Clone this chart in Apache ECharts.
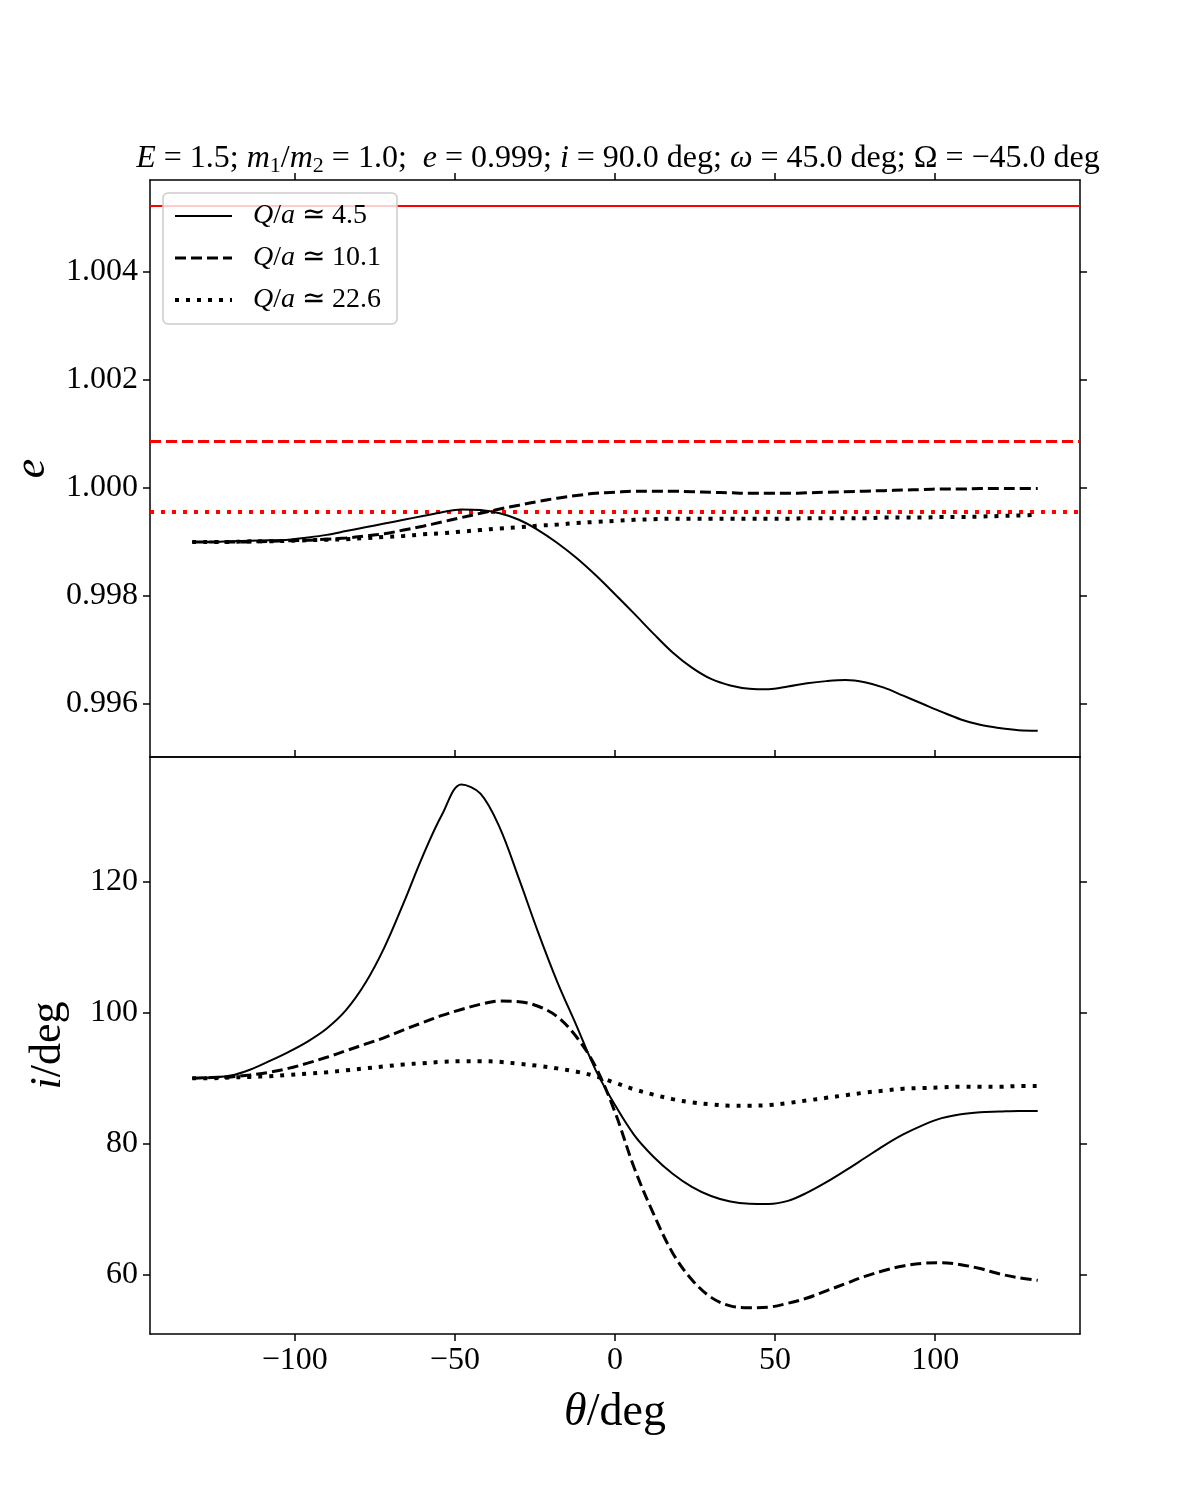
<!DOCTYPE html>
<html>
<head>
<meta charset="utf-8">
<script src="https://cdn.jsdelivr.net/npm/echarts@6/dist/echarts.min.js"></script>
<style>
html,body{margin:0;padding:0;background:#fff;}
#chart{width:1200px;height:1500px;}
</style>
</head>
<body>
<div id="chart"></div>
<script>
// ---- data ----
const theta = [-132,-126,-120,-114,-108,-102,-96,-90,-84,-78,-72,-66,-60,-54,-48,-42,-36,-30,-24,-18,-12,-6,
  0,6,12,18,24,30,36,42,48,54,60,66,72,78,84,90,96,102,108,114,120,126,132];

const qLabels = ['4.5', '10.1', '22.6'];

// eccentricity e(theta)
const eQ45 = [0.99900,0.99900,0.99901,0.99902,0.99903,0.99904,0.99908,0.99913,0.99920,0.99927,0.99934,0.99941,
  0.99948,0.99955,0.99960,0.99959,0.99953,0.99941,0.99922,0.99898,0.99870,0.99838,
  0.99803,0.99767,0.99730,0.99695,0.99667,0.99646,0.99634,0.99628,0.99627,0.99632,0.99638,0.99642,0.99644,
  0.99640,0.99630,0.99615,0.99600,0.99585,0.99571,0.99561,0.99555,0.99551,0.99550];
const eQ101 = [0.99900,0.99900,0.99900,0.99900,0.99901,0.99902,0.99903,0.99905,0.99907,0.99911,0.99915,0.99922,
  0.99929,0.99937,0.99945,0.99953,0.99961,0.99968,0.99975,0.99981,0.99986,0.99990,
  0.99992,0.99994,0.99994,0.99994,0.99993,0.99992,0.99991,0.99990,0.99990,0.99990,0.99991,0.99992,0.99993,
  0.99994,0.99995,0.99996,0.99997,0.99998,0.99998,0.99999,0.99999,0.99999,0.99999];
const eQ226 = [0.99900,0.99900,0.99900,0.99901,0.99901,0.99902,0.99903,0.99904,0.99905,0.99907,0.99909,0.99911,
  0.99914,0.99916,0.99919,0.99922,0.99925,0.99927,0.99930,0.99932,0.99935,0.99937,
  0.99939,0.99941,0.99942,0.99943,0.99943,0.99943,0.99943,0.99943,0.99943,0.99943,0.99944,0.99944,0.99944,
  0.99944,0.99945,0.99945,0.99945,0.99946,0.99946,0.99947,0.99948,0.99949,0.99950];

// critical eccentricities (red reference lines)
const eCrit = [1.00522, 1.00087, 0.999556];

// inclination i(theta) in deg
const iQ45 = [90.0,90.1,90.4,91.3,92.6,94.0,95.6,97.6,100.4,104.5,110.0,116.8,
  124.0,130.3,134.9,133.5,128.3,120.5,112.3,104.7,98.0,91.2,
  85.9,81.3,78.0,75.4,73.4,72.0,71.15,70.82,70.78,71.25,72.5,74.1,75.9,
  77.8,79.7,81.4,82.8,83.9,84.5,84.8,84.9,85.0,85.0];
const iQ101 = [90.0,90.1,90.2,90.5,90.9,91.5,92.3,93.2,94.2,95.2,96.2,97.4,
  98.5,99.6,100.5,101.3,101.8,101.7,101.0,99.4,96.3,91.7,
  84.8,76.3,69.3,63.3,59.2,56.5,55.2,54.9,55.0,55.6,56.4,57.5,58.6,
  59.7,60.6,61.3,61.7,61.8,61.5,60.9,60.1,59.5,59.1];
const iQ226 = [90.0,90.0,90.1,90.2,90.3,90.5,90.7,90.9,91.2,91.5,91.8,92.1,
  92.3,92.5,92.6,92.6,92.5,92.2,91.9,91.5,91.0,90.3,
  89.3,88.3,87.5,86.8,86.3,86.0,85.8,85.8,85.9,86.2,86.6,87.0,87.4,
  87.8,88.1,88.4,88.5,88.6,88.7,88.7,88.7,88.8,88.8];

// tick values
const xTicks = [-100, -50, 0, 50, 100];
const eTicks = [0.996, 0.998, 1.000, 1.002, 1.004];
const iTicks = [60, 80, 100, 120];

// ---- chart ----
const FONT = 'Liberation Serif';
const chart = echarts.init(document.getElementById('chart'), null, {renderer: 'canvas'});
const pair = (arr) => theta.map((t, k) => [t, arr[k]]);
const minus = (s) => String(s).replace('-', '\u2212');

const styles = [
  {type: 'solid', width: 2},
  {type: [11, 5], width: 3},
  {type: [4, 7], width: 4}
];
const redStyles = [
  {type: 'solid', width: 2},
  {type: [11, 5], width: 3},
  {type: [4, 7], width: 4}
];
const eSeries = [eQ45, eQ101, eQ226];
const iSeries = [iQ45, iQ101, iQ226];
const names = qLabels.map(q => 'Q/a \u2243 ' + q);

const XMIN = -145.2, XMAX = 145.2;
const EMIN = 0.995014, EMAX = 1.005706;
const IMIN = 50.9, IMAX = 139.1;
const SMOOTH = 0.35;

function xAx(grid, pos, showLabel, showTick) {
  return {
    type: 'value', gridIndex: grid, position: pos, min: XMIN, max: XMAX,
    axisLine: {show: true, onZero: false, lineStyle: {color: '#000', width: 1.5}},
    axisTick: {show: showTick, inside: false, length: 7, lineStyle: {color: '#000', width: 1.5}, customValues: xTicks},
    axisLabel: {show: showLabel, customValues: xTicks, formatter: v => minus(v), color: '#000',
      fontFamily: FONT, fontSize: 32, margin: 11},
    splitLine: {show: false}
  };
}
function yAx(grid, pos, ticks, min, max, showLabel, fmt, name, nameGap) {
  const o = {
    type: 'value', gridIndex: grid, position: pos, min: min, max: max,
    axisLine: {show: true, onZero: false, lineStyle: {color: '#000', width: 1.5}},
    axisTick: {show: true, inside: false, length: 7, lineStyle: {color: '#000', width: 1.5}, customValues: ticks},
    axisLabel: {show: showLabel, customValues: ticks, formatter: fmt, color: '#000',
      fontFamily: FONT, fontSize: 32, margin: 12},
    splitLine: {show: false}
  };
  if (name) {
    o.name = name;
    o.nameLocation = 'middle';
    o.nameGap = nameGap;
    o.nameRotate = 90;
    o.nameTextStyle = {color: '#000', fontFamily: FONT, fontSize: 44,
      rich: {it: {fontFamily: FONT, fontStyle: 'italic', fontSize: 44, color: '#000'}}};
  }
  return o;
}

const series = [];
eSeries.forEach((arr, k) => {
  series.push({
    name: names[k], type: 'line', xAxisIndex: 0, yAxisIndex: 0, data: pair(arr),
    symbol: 'none', showSymbol: false, smooth: SMOOTH, z: 3,
    lineStyle: Object.assign({color: '#000'}, styles[k]),
    itemStyle: {color: '#000'},
    markLine: {
      silent: true, symbol: ['none', 'none'], label: {show: false}, precision: 8,
      lineStyle: Object.assign({color: '#ff0000'}, redStyles[k]),
      emphasis: {disabled: true},
      data: [{yAxis: eCrit[k]}], z: 2
    }
  });
});
iSeries.forEach((arr, k) => {
  series.push({
    name: names[k], type: 'line', xAxisIndex: 2, yAxisIndex: 2, data: pair(arr),
    symbol: 'none', showSymbol: false, smooth: SMOOTH, z: 3,
    lineStyle: Object.assign({color: '#000'}, styles[k]),
    itemStyle: {color: '#000'}
  });
});

const option = {
  backgroundColor: '#fff',
  animation: false,
  title: {
    text: '{it|E} = 1.5; {it|m}{sub|1}/{it|m}{sub|2} = 1.0;  {it|e} = 0.999; {it|i} = 90.0 deg; {it|\u03C9} = 45.0 deg; \u03A9 = \u221245.0 deg',
    left: 613, top: 136, textAlign: 'center',
    textStyle: {
      color: '#000', fontFamily: FONT, fontSize: 32, fontWeight: 'normal', lineHeight: 36,
      rich: {
        it: {fontFamily: FONT, fontStyle: 'italic', fontSize: 32, color: '#000', lineHeight: 36},
        sub: {fontFamily: FONT, fontSize: 22, color: '#000', lineHeight: 36, padding: [15, 0, 0, 0]}
      }
    }
  },
  legend: {
    data: names.map((n, k) => ({
      name: n,
      lineStyle: {color: '#000', width: styles[k].width, type: styles[k].type}
    })),
    left: 163, top: 193, orient: 'vertical',
    itemWidth: 57, itemHeight: 14, itemGap: 12,
    padding: [8, 16, 9, 10],
    backgroundColor: 'rgba(255,255,255,0.8)', borderColor: '#cccccc', borderWidth: 1.5, borderRadius: 5,
    itemStyle: {color: 'rgba(0,0,0,0)', borderColor: 'rgba(0,0,0,0)', borderWidth: 0},
    formatter: (n) => '{it|Q}/{it|a} \u2243 ' + n.split(' ').pop(),
    textStyle: {color: '#000', fontFamily: FONT, fontSize: 28, lineHeight: 30, padding: [0, 0, 0, 16],
      rich: {it: {fontFamily: FONT, fontStyle: 'italic', fontSize: 28, color: '#000'}}}
  },
  grid: [
    {left: 150, top: 180, width: 930, height: 577, containLabel: false, outerBoundsMode: 'none'},
    {left: 150, top: 757, width: 930, height: 577, containLabel: false, outerBoundsMode: 'none'}
  ],
  xAxis: [
    xAx(0, 'top', false, true),
    xAx(0, 'bottom', false, false),
    Object.assign(xAx(1, 'bottom', true, true), {
      name: '{it|\u03B8}/deg', nameLocation: 'middle', nameGap: 56,
      nameTextStyle: {color: '#000', fontFamily: FONT, fontSize: 46,
        rich: {it: {fontFamily: FONT, fontStyle: 'italic', fontSize: 46, color: '#000'}}}
    }),
    xAx(1, 'top', false, true)
  ],
  yAxis: [
    yAx(0, 'left', eTicks, EMIN, EMAX, true, v => v.toFixed(3), '{it|e}', 96),
    yAx(0, 'right', eTicks, EMIN, EMAX, false, null),
    yAx(1, 'left', iTicks, IMIN, IMAX, true, v => String(v), '{it|i}/deg', 80),
    yAx(1, 'right', iTicks, IMIN, IMAX, false, null)
  ],
  series: series
};
chart.setOption(option);
</script>
</body>
</html>
